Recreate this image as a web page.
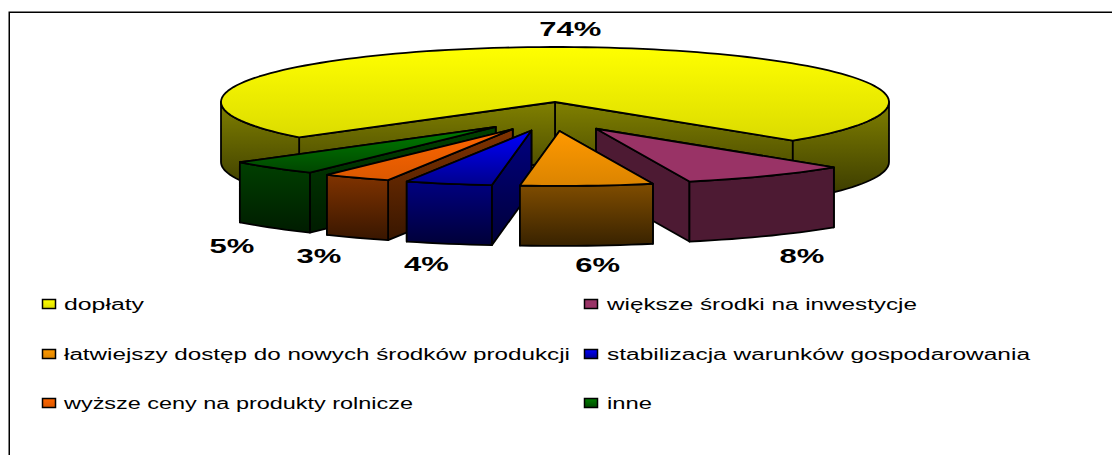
<!DOCTYPE html>
<html>
<head>
<meta charset="utf-8">
<script src="https://cdn.jsdelivr.net/npm/d3@7"></script>
<style>
  html, body { margin: 0; padding: 0; background: #fff; overflow: hidden; }
  svg { display: block; font-family: "Liberation Sans", Arial, sans-serif; }
</style>
</head>
<body>
<div id="chart"></div>
<script>
// Chart data
const categories = [
  "dopłaty",
  "większe środki na inwestycje",
  "łatwiejszy dostęp do nowych środków produkcji",
  "stabilizacja warunków gospodarowania",
  "wyższe ceny na produkty rolnicze",
  "inne",
];
// slice sizes estimated from the drawn angles, labels are the rounded figures
const values = [73.5, 8.1, 6.4, 4.2, 3.3, 4.5];
const percentLabels = ["74%", "8%", "6%", "4%", "3%", "5%"];
const topColors = ["#ffff00", "#993366", "#ff9900", "#0000ff", "#ff6600", "#008000"];
// how far the top face fades towards its front edge
const topFade = [0.86, 1, 0.86, 0.55, 0.86, 0.55];

const svgWidth = 1112,
  svgHeight = 455;
const cx = 555, // pie centre
  cy = 102,
  rx = 334,
  ry = 55,
  depth = 60;
const startAngle = (-130 * Math.PI) / 180;

const svg = d3
  .select("#chart")
  .append("svg")
  .attr("width", svgWidth)
  .attr("height", svgHeight);
const defs = svg.append("defs");

// Frame: only the top and left edges fall inside the picture
svg
  .append("path")
  .attr("d", `M9.25,${svgHeight}V12.25H${svgWidth}`)
  .attr("fill", "none")
  .attr("stroke", "#000")
  .attr("stroke-width", 1.5);

function addGradient(id, top, bottom) {
  const g = defs
    .append("linearGradient")
    .attr("id", id)
    .attr("x1", 0)
    .attr("y1", 0)
    .attr("x2", 0)
    .attr("y2", 1);
  g.append("stop").attr("offset", "0%").attr("stop-color", top);
  g.append("stop").attr("offset", "100%").attr("stop-color", bottom);
}

function shade(color, k) {
  const c = d3.rgb(color);
  return d3.rgb(c.r * k, c.g * k, c.b * k).formatHex();
}

topColors.forEach((color, i) => {
  addGradient("top" + i, color, shade(color, topFade[i]));
  // plum walls are almost flat in the reference, the others fall off to dark
  if (i === 1) addGradient("wall" + i, shade(color, 0.5), shade(color, 0.5));
  else addGradient("wall" + i, shade(color, 0.5), shade(color, 0.22));
});

const arcs = d3
  .pie()
  .sort(null)
  .startAngle(startAngle)
  .endAngle(startAngle + 2 * Math.PI)(values);

const line = d3
  .line()
  .x((d) => d[0])
  .y((d) => d[1]);

// point on the top ellipse of a slice with its apex at (ox, oy)
function rim(ox, oy, a) {
  return [ox + rx * Math.sin(a), oy - ry * Math.cos(a)];
}

function arcPoints(ox, oy, a0, a1) {
  const n = Math.max(2, Math.ceil((Math.abs(a1 - a0) * 180) / Math.PI / 2));
  return d3.range(n + 1).map((i) => rim(ox, oy, a0 + ((a1 - a0) * i) / n));
}

function lowered(points) {
  return points.map((p) => [p[0], p[1] + depth]);
}

function face(points, fill) {
  svg
    .append("path")
    .attr("d", line(points) + "Z")
    .attr("fill", fill)
    .attr("stroke", "#000")
    .attr("stroke-width", 1.8)
    .attr("stroke-linejoin", "round");
}

function radialWall(ox, oy, a, fill) {
  const pts = [[ox, oy], rim(ox, oy, a)];
  face(pts.concat(lowered(pts).reverse()), fill);
}

function arcWall(ox, oy, a0, a1, fill) {
  const pts = arcPoints(ox, oy, a0, a1);
  face(pts.concat(lowered(pts).reverse()), fill);
}

function topFace(ox, oy, a0, a1, fill) {
  face([[ox, oy]].concat(arcPoints(ox, oy, a0, a1)), fill);
}

// Main slice stays in place, only its front walls can be seen
const main = arcs[0];
radialWall(cx, cy, main.endAngle, "url(#wall0)");
radialWall(cx, cy, main.startAngle, "url(#wall0)");
arcWall(cx, cy, main.endAngle, Math.PI / 2, "url(#wall0)");
arcWall(cx, cy, main.startAngle, -Math.PI / 2, "url(#wall0)");
topFace(cx, cy, main.startAngle, main.endAngle, "url(#top0)");

// Exploded slices, painted back to front
const explodeX = 85,
  explodeY = 16,
  explodeCx = 552.5,
  explodeCy = cy + 13;

[1, 5, 4, 3, 2].forEach((i) => {
  const d = arcs[i];
  const mid = (d.startAngle + d.endAngle) / 2;
  const ox = explodeCx + explodeX * Math.sin(mid);
  const oy = explodeCy - explodeY * Math.cos(mid);
  const wall = `url(#wall${i})`;
  // the hidden radial wall has to go first
  if (Math.sin(mid) > 0) {
    radialWall(ox, oy, d.startAngle, wall);
    radialWall(ox, oy, d.endAngle, wall);
  } else {
    radialWall(ox, oy, d.endAngle, wall);
    radialWall(ox, oy, d.startAngle, wall);
  }
  arcWall(ox, oy, d.startAngle, d.endAngle, wall);
  topFace(ox, oy, d.startAngle, d.endAngle, `url(#top${i})`);
});

// Percent labels: around the pie, then nudged to where they sit in the reference
const labelRx = 510,
  labelRy = 172;
const labelNudge = [
  [5, 99],
  [-14.5, 6],
  [0.8, -8],
  [-2.1, -5],
  [2.3, 2.2],
  [17.6, 16.4],
];
const labelStretch = 1.55;

arcs.forEach((d, i) => {
  const mid = (d.startAngle + d.endAngle) / 2;
  const x = cx + labelRx * Math.sin(mid) * (i === 0 ? 0.5 : 1) + labelNudge[i][0];
  const y = cy - labelRy * Math.cos(mid) + labelNudge[i][1];
  svg
    .append("text")
    .attr("transform", `translate(${x},${y}) scale(${labelStretch},1)`)
    .attr("text-anchor", "middle")
    .attr("dominant-baseline", "central")
    .attr("font-size", 20)
    .attr("font-weight", "bold")
    .attr("fill", "#000")
    .text(percentLabels[i]);
});

// Legend, the text in the reference is stretched sideways
const legendSwatchX = [42, 584];
const legendTextX = [64, 607];
const legendRows = [304, 354, 403];
const legendTextWidths = [80, 310, 506, 423, 349, 45];

categories.forEach((name, i) => {
  const col = i % 2;
  const ly = legendRows[Math.floor(i / 2)];
  svg
    .append("rect")
    .attr("x", legendSwatchX[col] + 0.5)
    .attr("y", ly - 4.5)
    .attr("width", 13)
    .attr("height", 9)
    .attr("fill", `url(#top${i})`)
    .attr("stroke", "#000")
    .attr("stroke-width", 1.5);
  svg
    .append("text")
    .attr("x", legendTextX[col])
    .attr("y", ly)
    .attr("textLength", legendTextWidths[i])
    .attr("lengthAdjust", "spacingAndGlyphs")
    .attr("dominant-baseline", "central")
    .attr("font-size", 16)
    .attr("fill", "#000")
    .text(name);
});
</script>
</body>
</html>
